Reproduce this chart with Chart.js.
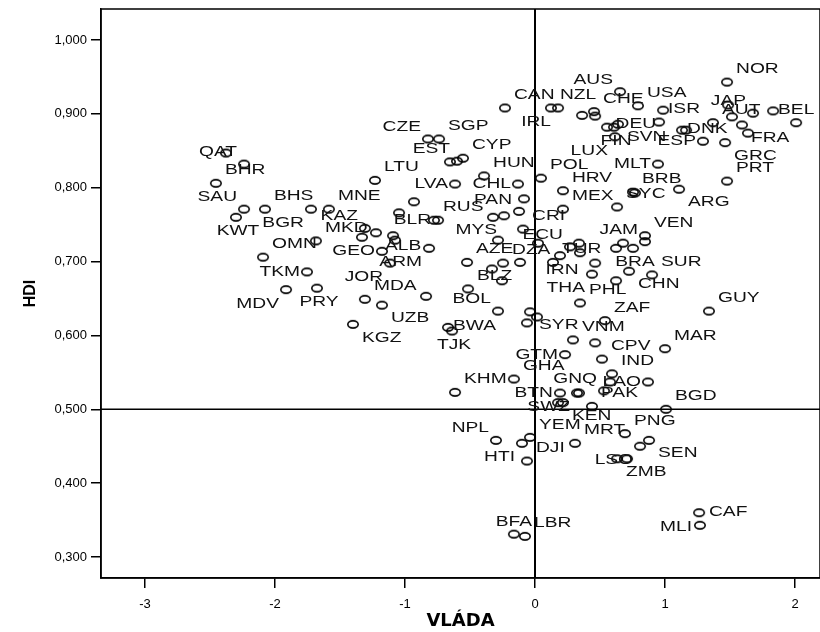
<!DOCTYPE html>
<html><head><meta charset="utf-8">
<script src="https://cdn.jsdelivr.net/npm/chart.js@4.4.1/dist/chart.umd.min.js"></script>
<style>html,body{margin:0;padding:0;background:#fff}canvas{display:block}</style>
</head><body>
<canvas id="c" width="820" height="632"></canvas>
<script>
// ---- data ----
const countries = ['QAT','','BHR','SAU','KWT','BHS','BGR','MNE','MKD','OMN',
 'TKM','MDV','PRY','KAZ','','ALB','','','GEO','JOR',
 'ARM','MDA','','UZB','KGZ','TJK','BWA','LTU','','',
 'RUS','BLR','LVA','HUN','CZE','SGP','EST','CYP','','CAN',
 'NZL','IRL','AZE','DZA','BLZ','BOL','','MYS','PAN','CRI',
 '','CHL','','POL','HRV','MEX','SYC','','BRB','MLT',
 'ARG','PRT','VEN','JAM','','','ECU','','','IRN',
 'TUR','','THA','CHN','SUR','BRA','','PHL','','',
 '','','ZAF','','VNM','GTM','CPV','IND','','GNQ',
 'LAO','PAK','','MAR','GUY','BGD','GHA','KHM','BTN','SWZ',
 '','KEN','MRT','PNG','LSO','SEN','ZMB','','NPL','HTI',
 'YEM','DJI','BFA','LBR','MLI','CAF','SYR','','','AUS',
 'CHE','','','USA','DEU','ISR','','FIN','SVN','LUX',
 'DNK','','AUT','ESP','GRC','FRA','','','','JAP',
 'BEL','','NOR'];
const vlada = [-2.238,-2.377,-2.454,-2.238,-2.300,-2.077,-1.723,-1.585,-1.685,-2.092,
 -1.754,-1.915,-1.677,-1.308,-1.331,-1.223,-1.092,-1.077,-1.177,-1.115,
 -0.815,-1.308,-0.838,-1.177,-1.400,-0.638,-0.669,-1.231,-0.931,-1.046,
 -0.777,-0.746,-0.615,-0.392,-0.823,-0.738,-0.600,-0.554,-0.654,-0.231,
 0.123,0.177,-0.523,-0.246,-0.515,-0.285,-0.323,-0.238,-0.123,-0.092,
 -0.285,-0.131,-0.085,0.046,0.215,0.215,0.631,0.769,0.754,0.946,
 1.108,1.477,0.846,0.846,0.677,0.623,0.269,0.338,0.346,0.192,
 0.138,0.462,0.438,0.723,0.900,0.754,0.623,0.346,0.023,-0.115,
 -0.331,-0.254,0.538,0.462,0.292,0.231,0.515,0.592,0.577,0.531,
 0.869,0.438,0.338,1.000,1.338,1.008,-0.162,-0.615,0.192,0.323,
 0.177,0.215,0.308,0.692,0.808,0.877,0.631,0.708,-0.300,-0.100,
 -0.038,-0.062,-0.162,-0.077,1.262,1.269,-0.038,0.015,-0.062,0.654,
 0.454,0.362,0.462,0.792,0.985,0.954,0.554,0.608,0.638,0.615,
 1.131,1.162,1.369,1.292,1.462,1.592,1.638,1.515,1.485,1.677,
 1.831,2.008,1.477];
const hdi = [0.832,0.847,0.806,0.771,0.760,0.771,0.771,0.771,0.728,0.706,
 0.686,0.662,0.664,0.745,0.733,0.739,0.735,0.729,0.714,0.698,
 0.718,0.649,0.653,0.641,0.615,0.606,0.611,0.810,0.781,0.766,
 0.756,0.756,0.805,0.816,0.866,0.866,0.836,0.840,0.835,0.908,
 0.908,0.908,0.699,0.698,0.663,0.633,0.760,0.762,0.768,0.744,
 0.729,0.805,0.785,0.813,0.796,0.771,0.774,0.793,0.794,0.832,
 0.798,0.809,0.735,0.727,0.725,0.718,0.720,0.725,0.712,0.708,
 0.699,0.698,0.683,0.687,0.682,0.718,0.674,0.644,0.725,0.699,
 0.690,0.674,0.620,0.590,0.594,0.574,0.568,0.548,0.537,0.525,
 0.537,0.504,0.522,0.582,0.633,0.500,0.541,0.523,0.522,0.522,
 0.509,0.509,0.454,0.467,0.450,0.458,0.433,0.433,0.458,0.454,
 0.462,0.430,0.331,0.328,0.360,0.343,0.632,0.625,0.617,0.930,
 0.903,0.898,0.897,0.911,0.905,0.889,0.882,0.882,0.886,0.869,
 0.878,0.878,0.888,0.863,0.861,0.885,0.874,0.896,0.912,0.901,
 0.904,0.888,0.943];
const xTickValues = [-3,-2,-1,0,1,2];
const xTickLabels = ['-3','-2','-1','0','1','2'];
const yTickValues = [0.3,0.4,0.5,0.6,0.7,0.8,0.9,1.0];
const yTickLabels = ['0,300','0,400','0,500','0,600','0,700','0,800','0,900','1,000'];
const xTitle = 'VLÁDA';
const yTitle = 'HDI';
const refX = 0;
const refY = 0.5;

// ---- label placement (style) ----
const labelPlacement = {QAT:'nw',SAU:'nw',KWT:'s',BGR:'sw',TKM:'w',MDV:'sw',PRY:'s',KAZ:'nw',
 ALB:'se',GEO:'w',JOR:'sw',ARM:'sw',UZB:'se',KGZ:'se',TJK:'s',BWA:'e',BLR:'w',LVA:'w',CZE:'nw',
 EST:'nw',IRL:'sw',BOL:'nw',MYS:'sw',PAN:'nw',CHL:'w',MLT:'w',ARG:'se',JAM:'nw',ECU:'nw',
 IRN:'s',THA:'sw',CHN:'se',BRA:'s',GTM:'w',GNQ:'nw',LAO:'w',BTN:'w',SWZ:'sw',KEN:'se',
 LSO:'sw',SEN:'se',ZMB:'se',NPL:'nw',HTI:'sw',BFA:'n',MLI:'sw',SYR:'se',AUS:'nw',DEU:'sw',
 FIN:'s',SVN:'se',LUX:'sw',DNK:'e',ESP:'w',GRC:'se',FRA:'se',JAP:'nw',BEL:'e'};
const OFFSETS = {ne:['left',9,-13],nw:['right',-7,-12],se:['left',9,13],sw:['right',-7,14],
 n:['center',0,-12],s:['center',2,14],e:['left',5,-1],w:['right',-7,0]};
const STRETCH = 1.28;
const LABEL_FONT = '15px "Liberation Sans", Arial, sans-serif';

function ellipseMarker(){
  const c = document.createElement('canvas'); c.width = 14; c.height = 11;
  const g = c.getContext('2d'); g.strokeStyle = '#000'; g.lineWidth = 1.6;
  g.beginPath(); g.ellipse(7, 5.5, 5.2, 3.6, 0, 0, Math.PI*2); g.stroke();
  return c;
}

const framePlugin = {
  id: 'frame',
  beforeDatasetsDraw(chart){
    const {ctx, chartArea: a, scales: {x, y}} = chart;
    ctx.save();
    ctx.strokeStyle = '#000';
    ctx.lineWidth = 1.5;
    ctx.strokeRect(a.left, a.top, a.right - a.left, a.bottom - a.top);
    const px = x.getPixelForValue(refX), py = y.getPixelForValue(refY);
    ctx.lineWidth = 2;
    ctx.beginPath(); ctx.moveTo(px, a.top); ctx.lineTo(px, a.bottom); ctx.stroke();
    ctx.lineWidth = 1.5;
    ctx.beginPath(); ctx.moveTo(a.left, py); ctx.lineTo(a.right, py); ctx.stroke();
    ctx.restore();
  }
};

const labelPlugin = {
  id: 'pointLabels',
  afterDatasetsDraw(chart){
    const {ctx, scales: {x, y}} = chart;
    ctx.save();
    ctx.font = LABEL_FONT; ctx.fillStyle = '#111'; ctx.textBaseline = 'middle';
    countries.forEach((name, i) => {
      if (!name) return;
      const px = x.getPixelForValue(vlada[i]), py = y.getPixelForValue(hdi[i]);
      const [align, dx, dy] = OFFSETS[labelPlacement[name] || 'ne'];
      ctx.save();
      ctx.translate(px + dx, py + dy);
      ctx.scale(STRETCH, 1);
      ctx.textAlign = align;
      ctx.fillText(name, 0, 0);
      ctx.restore();
    });
    ctx.restore();
  }
};

const tickFont = {family: '"Liberation Sans", Arial, sans-serif', size: 13};

new Chart(document.getElementById('c'), {
  type: 'scatter',
  data: {
    datasets: [{
      data: vlada.map((v, i) => ({x: v, y: hdi[i]})),
      pointStyle: ellipseMarker(),
      pointRadius: 5, pointHoverRadius: 5,
      borderColor: '#000', backgroundColor: 'rgba(0,0,0,0)'
    }]
  },
  options: {
    responsive: false, animation: false, events: [],
    layout: {autoPadding: false, padding: {top: 9, right: 0, left: 0, bottom: 0}},
    plugins: {legend: {display: false}, tooltip: {enabled: false}},
    scales: {
      x: {
        type: 'linear', bounds: 'data', min: -3.338, max: 2.192,
        afterBuildTicks: s => { s.ticks = xTickValues.map(v => ({value: v})); },
        afterFit: s => { s.height = 54; s.paddingLeft = 0; s.paddingRight = 0; },
        grid: {drawOnChartArea: false, drawTicks: true, tickLength: 10, color: '#000', lineWidth: 1.5},
        border: {display: true, color: '#000', width: 1.5},
        ticks: {color: '#000', font: tickFont, padding: 9, maxRotation: 0, autoSkip: false,
                callback: (v, i) => xTickLabels[i]},
        title: {display: true, text: xTitle, color: '#000',
                font: {family: '"DejaVu Sans", sans-serif', size: 18, weight: 'bold'},
                padding: {top: 0, bottom: 0}}
      },
      y: {
        type: 'linear', bounds: 'data', min: 0.2716, max: 1.042,
        afterBuildTicks: s => { s.ticks = yTickValues.map(v => ({value: v})); },
        afterFit: s => { s.width = 101; s.paddingTop = 0; s.paddingBottom = 0; },
        grid: {drawOnChartArea: false, drawTicks: true, tickLength: 10, color: '#000', lineWidth: 1.5},
        border: {display: true, color: '#000', width: 1.5},
        ticks: {color: '#000', font: tickFont, padding: 4, autoSkip: false,
                callback: (v, i) => yTickLabels[i]},
        title: {display: true, text: yTitle, color: '#000',
                font: {family: '"Liberation Sans", Arial, sans-serif', size: 16, weight: 'bold'},
                padding: {top: 21, bottom: 0}}
      }
    }
  },
  plugins: [framePlugin, labelPlugin]
});
</script>
</body></html>
